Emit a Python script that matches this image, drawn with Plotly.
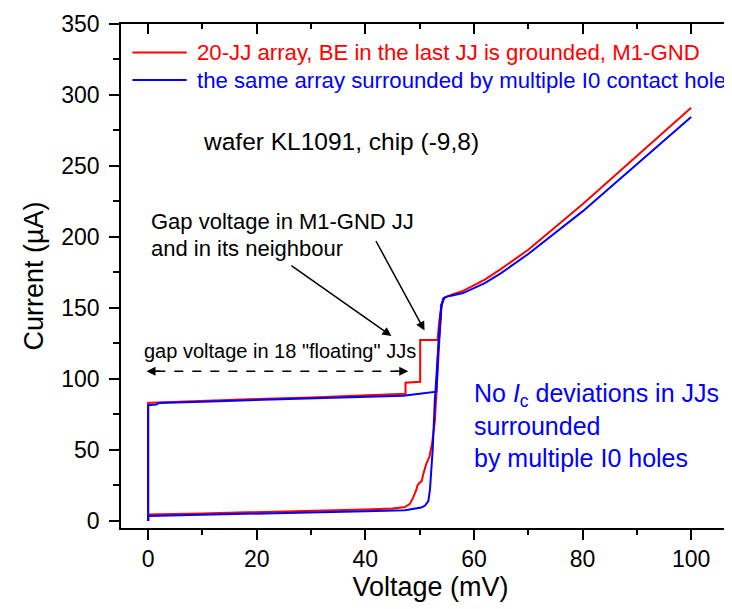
import plotly.graph_objects as go

# ---- data ----
# red: 20-JJ array, forward sweep
red_up_v = [0, 0, 0.5, 5, 10, 20, 30, 40, 47.4, 47.4, 50.1, 50.1, 53.3, 53.6, 54.0, 54.4, 55, 56, 58, 60, 62, 65, 70, 80, 90, 100]
red_up_i = [0, 83.2, 83.3, 84.0, 84.6, 85.8, 87.0, 88.3, 89.6, 97.3, 98.0, 127.4, 127.4, 140, 152, 157, 158, 159.5, 162, 166, 170, 177.5, 191, 223, 257, 291]
# red: return sweep
red_dn_v = [54.4, 54.0, 53.6, 53.2, 52.8, 52.3, 51.8, 51.2, 51.0, 50.6, 50.4, 50.0, 49.6, 49.4, 48.8, 48.2, 47.3, 45, 40, 30, 20, 10, 0, 0]
red_dn_i = [157, 150, 125, 95, 70, 55, 45, 40, 37.5, 32, 28, 27, 25, 22, 16.4, 12, 9.8, 8.8, 8.0, 7.0, 6.0, 5.3, 4.6, 0]
# blue: same array surrounded by I0 holes, forward sweep
blue_up_v = [0, 0, 1.5, 2, 10, 20, 30, 40, 47, 50, 53.1, 53.4, 54.0, 54.5, 55, 56, 58, 60, 62, 65, 70, 80, 90, 100]
blue_up_i = [0, 81.5, 82, 83, 84, 85, 86, 87, 88.2, 89.5, 91, 120, 152, 157, 158, 158.8, 160.5, 164, 167.5, 174.5, 188, 218, 251, 284.5]
# blue: return sweep
blue_dn_v = [54.5, 54.0, 53.4, 52.8, 52.4, 52.2, 51.9, 51.6, 51.0, 50.3, 47.3, 40, 30, 20, 10, 0, 0]
blue_dn_i = [157, 152, 120, 85, 50, 37.5, 22, 14, 10.8, 9.4, 7.5, 6.8, 6.0, 5.2, 4.3, 3.5, 0]

series_names = ["20-JJ array, BE in the last JJ is grounded, M1-GND",
                "the same array surrounded by multiple I0 contact holes"]
series_colors = ["#ff0000", "#0000ff"]

x_ticks = [0, 20, 40, 60, 80, 100]
y_ticks = [0, 50, 100, 150, 200, 250, 300, 350]

FONT = "Liberation Sans, Arial, sans-serif"

fig = go.Figure()
fig.add_trace(go.Scatter(x=red_up_v + [None] + red_dn_v, y=red_up_i + [None] + red_dn_i,
                         mode="lines", line=dict(color=series_colors[0], width=2),
                         name=series_names[0], showlegend=False))
fig.add_trace(go.Scatter(x=blue_up_v + [None] + blue_dn_v, y=blue_up_i + [None] + blue_dn_i,
                         mode="lines", line=dict(color=series_colors[1], width=2),
                         name=series_names[1], showlegend=False))
# empty trace for mirrored (top/right) axes with inward ticks
fig.add_trace(go.Scatter(x=[], y=[], xaxis="x2", yaxis="y2", showlegend=False, hoverinfo="skip"))

XR = [-5, 109]
YR = [-5, 350]

axis_common = dict(showgrid=False, zeroline=False, showline=True, linecolor="black", linewidth=1.6,
                   tickcolor="black", tickwidth=1.6, automargin=False)

fig.update_layout(
    width=732, height=609,
    margin=dict(l=113, r=0, t=16, b=89),
    paper_bgcolor="white", plot_bgcolor="white",
    font=dict(family=FONT, color="black"),
    xaxis=dict(range=XR, tickvals=x_ticks, ticks="outside", ticklen=10, ticklabelstandoff=0,
               minor=dict(dtick=10, tick0=0, ticks="outside", ticklen=5, tickcolor="black", tickwidth=1.6),
               tickfont=dict(size=23, family=FONT),
               title=dict(text="Voltage (mV)", font=dict(size=27, family=FONT), standoff=6),
               **axis_common),
    yaxis=dict(range=YR, tickvals=y_ticks, ticks="outside", ticklen=10, ticklabelstandoff=5,
               minor=dict(dtick=25, tick0=0, ticks="outside", ticklen=6, tickcolor="black", tickwidth=1.6),
               tickfont=dict(size=23, family=FONT),
               title=dict(text="Current (\u00b5A)", font=dict(size=27, family=FONT), standoff=10),
               **axis_common),
    xaxis2=dict(range=XR, overlaying="x", side="top", anchor="y2", tickvals=x_ticks, ticks="inside",
                ticklen=10, showticklabels=False,
                minor=dict(dtick=10, tick0=0, ticks="inside", ticklen=5, tickcolor="black", tickwidth=1.6),
                **axis_common),
    yaxis2=dict(range=YR, overlaying="y", side="right", anchor="x2", tickvals=y_ticks, ticks="inside",
                ticklen=10, showticklabels=False,
                minor=dict(dtick=25, tick0=0, ticks="inside", ticklen=6, tickcolor="black", tickwidth=1.6),
                **axis_common),
)

# legend (drawn manually to match the long sample lines)
leg_y = [330, 310.5]
for name, col, ly in zip(series_names, series_colors, leg_y):
    fig.add_shape(type="line", x0=-2.9, x1=7.1, y0=ly, y1=ly, xref="x", yref="y",
                  line=dict(color=col, width=2))
    fig.add_annotation(x=8.6, y=ly, xref="x", yref="y", text=name, showarrow=False,
                       xanchor="left", yanchor="middle", font=dict(size=22.2, color=col, family=FONT))

def txt(x, y, s, size, color="black"):
    fig.add_annotation(x=x, y=y, xref="x", yref="y", text=s, showarrow=False,
                       xanchor="left", yanchor="middle", font=dict(size=size, color=color, family=FONT))

txt(9.8, 267.5, "wafer KL1091, chip (-9,8)", 24.5)
txt(0.1, 211.2, "Gap voltage in M1-GND JJ", 22)
txt(0.1, 192.2, "and in its neighbour", 22)
txt(-1.2, 119.4, "gap voltage in 18 \"floating\" JJs", 20)
txt(59.6, 88.9, "No <i>I</i><sub>c</sub> deviations in JJs", 25, "#0000ff")
txt(59.6, 66.6, "surrounded", 25, "#0000ff")
txt(59.6, 44.3, "by multiple I0 holes", 25, "#0000ff")

# arrows
def arrow(x_head, y_head, x_tail, y_tail):
    fig.add_annotation(x=x_head, y=y_head, ax=x_tail, ay=y_tail, xref="x", yref="y",
                       axref="x", ayref="y", text="", showarrow=True, arrowhead=2,
                       arrowsize=1.2, arrowwidth=1.5, arrowcolor="black")

arrow(44.8, 130.2, 26.1, 180.6)
arrow(50.9, 134.1, 41.8, 198.2)

# dashed double-headed arrow
fig.add_shape(type="line", x0=1.5, x1=46.0, y0=105.4, y1=105.4, xref="x", yref="y",
              line=dict(color="black", width=1.5, dash="dash"))
arrow(-0.3, 105.4, 2.5, 105.4)
arrow(47.9, 105.4, 45.2, 105.4)

fig.write_html("out.html")
